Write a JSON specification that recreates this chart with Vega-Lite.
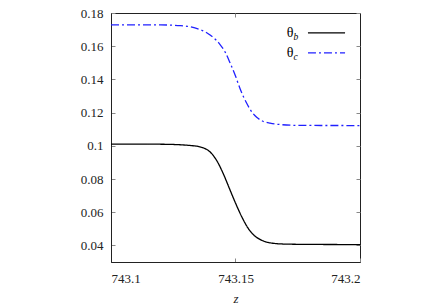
{
  "$schema": "https://vega.github.io/schema/vega-lite/v6.json",
  "width": 249,
  "height": 249,
  "autosize": {"type": "none"},
  "padding": {"left": 111, "top": 13, "right": 76, "bottom": 43},
  "background": "white",
  "config": {
    "view": {"stroke": "#222", "strokeWidth": 1},
    "font": "Liberation Serif",
    "axis": {
      "grid": false,
      "domainColor": "#222",
      "tickColor": "#888",
      "labelColor": "#222",
      "titleColor": "#222",
      "labelFont": "Liberation Serif",
      "titleFont": "Liberation Serif",
      "labelFontSize": 13,
      "titleFontSize": 13,
      "titleFontWeight": "normal",
      "tickSize": -4,
      "labelPadding": 12
    }
  },
  "datasets": {
    "curves": [
      {"series": "θb", "z": 743.100, "v": 0.1010},
      {"series": "θb", "z": 743.115, "v": 0.1010},
      {"series": "θb", "z": 743.125, "v": 0.1008},
      {"series": "θb", "z": 743.130, "v": 0.1004},
      {"series": "θb", "z": 743.1325, "v": 0.1001},
      {"series": "θb", "z": 743.135, "v": 0.0996},
      {"series": "θb", "z": 743.1375, "v": 0.0985},
      {"series": "θb", "z": 743.140, "v": 0.0960},
      {"series": "θb", "z": 743.1425, "v": 0.0910},
      {"series": "θb", "z": 743.145, "v": 0.0835},
      {"series": "θb", "z": 743.1475, "v": 0.0745},
      {"series": "θb", "z": 743.150, "v": 0.0655},
      {"series": "θb", "z": 743.1525, "v": 0.0573},
      {"series": "θb", "z": 743.155, "v": 0.0505},
      {"series": "θb", "z": 743.1575, "v": 0.0460},
      {"series": "θb", "z": 743.160, "v": 0.0435},
      {"series": "θb", "z": 743.1625, "v": 0.0420},
      {"series": "θb", "z": 743.165, "v": 0.0413},
      {"series": "θb", "z": 743.170, "v": 0.0408},
      {"series": "θb", "z": 743.180, "v": 0.0406},
      {"series": "θb", "z": 743.200, "v": 0.0405},
      {"series": "θc", "z": 743.100, "v": 0.1728},
      {"series": "θc", "z": 743.120, "v": 0.1728},
      {"series": "θc", "z": 743.128, "v": 0.1724},
      {"series": "θc", "z": 743.132, "v": 0.1716},
      {"series": "θc", "z": 743.1357, "v": 0.1700},
      {"series": "θc", "z": 743.138, "v": 0.1685},
      {"series": "θc", "z": 743.1398, "v": 0.1667},
      {"series": "θc", "z": 743.142, "v": 0.1640},
      {"series": "θc", "z": 743.1438, "v": 0.1610},
      {"series": "θc", "z": 743.146, "v": 0.1560},
      {"series": "θc", "z": 743.1478, "v": 0.1500},
      {"series": "θc", "z": 743.150, "v": 0.1420},
      {"series": "θc", "z": 743.1518, "v": 0.1345},
      {"series": "θc", "z": 743.1545, "v": 0.1256},
      {"series": "θc", "z": 743.157, "v": 0.1195},
      {"series": "θc", "z": 743.1585, "v": 0.1172},
      {"series": "θc", "z": 743.161, "v": 0.1148},
      {"series": "θc", "z": 743.1639, "v": 0.1136},
      {"series": "θc", "z": 743.168, "v": 0.1128},
      {"series": "θc", "z": 743.175, "v": 0.1123},
      {"series": "θc", "z": 743.200, "v": 0.1122}
    ]
  },
  "resolve": {"axis": {"x": "independent", "y": "independent"}},
  "layer": [
    {
      "data": {"name": "curves"},
      "mark": {"type": "line", "interpolate": "monotone", "strokeWidth": 1.3, "clip": true},
      "encoding": {
        "x": {
          "field": "z", "type": "quantitative",
          "scale": {"domain": [743.1, 743.2], "nice": false, "zero": false},
          "axis": {"orient": "bottom", "values": [743.1, 743.15, 743.2], "format": ".2~f", "title": "z", "titleFontStyle": "italic", "titlePadding": 7, "labelPadding": 14}
        },
        "y": {
          "field": "v", "type": "quantitative",
          "scale": {"domain": [0.03, 0.18], "nice": false, "zero": false},
          "axis": {"orient": "left", "values": [0.04, 0.06, 0.08, 0.1, 0.12, 0.14, 0.16, 0.18], "format": ".2~f", "title": null}
        },
        "color": {"field": "series", "type": "nominal", "scale": {"domain": ["θb", "θc"], "range": ["black", "#2020ff"]}, "legend": null},
        "strokeDash": {"field": "series", "type": "nominal", "scale": {"domain": ["θb", "θc"], "range": [[1, 0], [8, 3, 2, 3]]}, "legend": null}
      }
    },
    {
      "data": {"values": [{}]},
      "mark": {"type": "rule", "strokeWidth": 0},
      "encoding": {
        "x": {"datum": 743.15, "type": "quantitative", "axis": {"orient": "top", "values": [743.15], "labels": false, "domain": false, "title": null}},
        "y": {"datum": 0.1, "type": "quantitative", "axis": {"orient": "right", "values": [0.04, 0.06, 0.08, 0.1, 0.12, 0.14, 0.16, 0.18], "labels": false, "domain": false, "title": null}}
      }
    },
    {
      "data": {"values": [{}]},
      "mark": {"type": "text", "fontSize": 14, "font": "Liberation Serif", "align": "center", "baseline": "middle", "color": "black"},
      "encoding": {
        "x": {"datum": 743.1719, "type": "quantitative", "axis": null},
        "y": {"datum": 0.168, "type": "quantitative", "axis": null},
        "text": {"value": "θ"}
      }
    },
    {
      "data": {"values": [{}]},
      "mark": {"type": "text", "fontSize": 9.5, "font": "Liberation Serif", "fontStyle": "italic", "align": "left", "baseline": "middle", "dx": 3.5, "dy": 4, "color": "black"},
      "encoding": {
        "x": {"datum": 743.1719, "type": "quantitative", "axis": null},
        "y": {"datum": 0.168, "type": "quantitative", "axis": null},
        "text": {"value": "b"}
      }
    },
    {
      "data": {"values": [{}]},
      "mark": {"type": "text", "fontSize": 14, "font": "Liberation Serif", "align": "center", "baseline": "middle", "color": "black"},
      "encoding": {
        "x": {"datum": 743.1719, "type": "quantitative", "axis": null},
        "y": {"datum": 0.156, "type": "quantitative", "axis": null},
        "text": {"value": "θ"}
      }
    },
    {
      "data": {"values": [{}]},
      "mark": {"type": "text", "fontSize": 9.5, "font": "Liberation Serif", "fontStyle": "italic", "align": "left", "baseline": "middle", "dx": 3.5, "dy": 4, "color": "black"},
      "encoding": {
        "x": {"datum": 743.1719, "type": "quantitative", "axis": null},
        "y": {"datum": 0.156, "type": "quantitative", "axis": null},
        "text": {"value": "c"}
      }
    },
    {
      "data": {"values": [{}]},
      "mark": {"type": "rule", "strokeWidth": 1.3, "color": "black"},
      "encoding": {
        "x": {"datum": 743.1791, "type": "quantitative", "axis": null},
        "x2": {"datum": 743.194},
        "y": {"datum": 0.168, "type": "quantitative", "axis": null}
      }
    },
    {
      "data": {"values": [{}]},
      "mark": {"type": "rule", "strokeWidth": 1.3, "color": "#2020ff", "strokeDash": [8, 3, 2, 3]},
      "encoding": {
        "x": {"datum": 743.1791, "type": "quantitative", "axis": null},
        "x2": {"datum": 743.194},
        "y": {"datum": 0.156, "type": "quantitative", "axis": null}
      }
    }
  ]
}
